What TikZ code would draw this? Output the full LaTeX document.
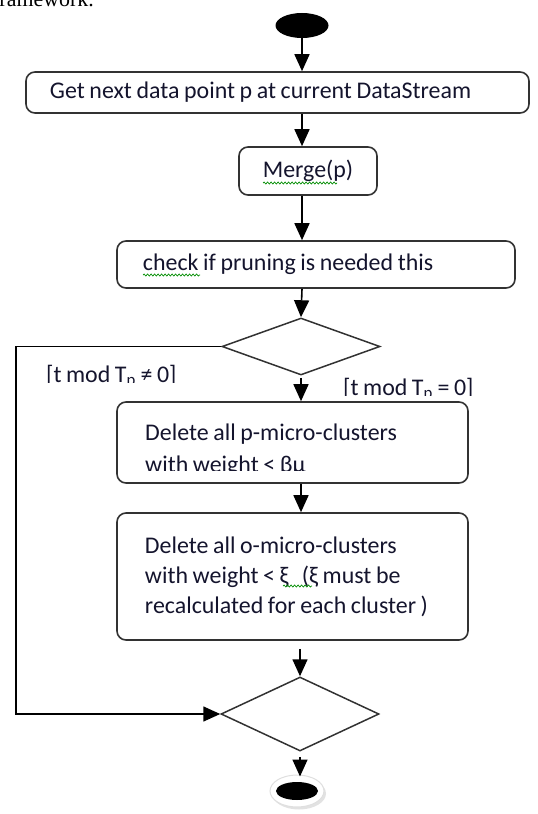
\documentclass[tikz,border=0pt]{standalone}
\usepackage{fontspec}
\setmainfont{Carlito}[WordSpace=0.85]
\newfontfamily\pageserif{Liberation Serif}
\usetikzlibrary{shapes.geometric,arrows.meta,decorations.pathmorphing,shadows}

\definecolor{ink}{RGB}{20,20,45}
\definecolor{edge}{RGB}{50,50,50}
\newcommand\boxfont{\fontsize{24}{30}\selectfont}

\tikzset{
  box/.style={draw=edge, line width=1.6bp, rounded corners=9bp, text=ink, font=\boxfont, inner ysep=0pt},
  choice/.style={diamond, draw=edge, line width=1.5bp, inner sep=0pt, minimum width=158bp},
  guard/.style={text=ink, font=\boxfont, inner sep=0pt, anchor=base west},
  flow/.style={->, line width=1.6bp},
  squiggle/.style={draw=green!55!black, line width=0.7bp, decorate, decoration={snake, amplitude=1bp, segment length=3.5bp}}
}

\begin{document}
\begin{tikzpicture}[x=1bp, y=-1bp, >={Triangle[length=17bp,width=15bp]}]
    \clip (0,0) rectangle (538,814);
    \node [font=\pageserif\fontsize{22}{22}\selectfont, anchor=base west, inner sep=0pt] (prevline) at (-8,7) {framework.};

    \node [ellipse, fill=black, minimum width=53bp, minimum height=25bp, inner sep=0pt] (begin) at (302,25.5) {};
    \node [box, minimum width=503bp, minimum height=41bp, inner xsep=24bp, text width=455bp, align=flush left] (next) at (277.5,92.5) {Get next data point p at current DataStream};
    \node [box, minimum width=138bp, minimum height=48bp, inner xsep=0pt, align=center] (merge) at (308,171) {Merge(p)};
    \node [box, minimum width=398bp, minimum height=47bp, inner xsep=26bp, text width=346bp, align=flush left] (prune) at (316,264.5) {check if pruning is needed this};
    \node [choice, minimum height=57bp] (test) at (301,346.5) {};
    \node [box, minimum width=351bp, minimum height=81bp] (pdel) at (292.5,442.5) {};
    \node [box, minimum width=351bp, minimum height=127bp, inner xsep=28bp, text width=295bp, align=flush left] (odel) at (292.5,576.5) {Delete all o-micro-clusters\\with weight < ξ \ \,(ξ must be\\recalculated for each cluster )};
    \node [choice, minimum height=74bp] (join) at (300,714) {};
    \node [ellipse, fill=white, draw=gray!25, line width=1bp, minimum width=54bp, minimum height=32bp, drop shadow={shadow xshift=2bp, shadow yshift=-2.5bp, fill=gray!45}] (halt) at (297,791) {};
    \node [ellipse, fill=black, minimum width=42bp, minimum height=18bp, inner sep=0pt] (haltdot) at (halt.center) {};

    \begin{scope}
      \clip (140,415) rectangle (460,470.5);
      \node [guard] (pdeltext) at (145,440) {Delete all p-micro-clusters};
      \node [guard] (pdeltext2) at (145,472) {with weight < βμ};
    \end{scope}
    \begin{scope}
      \clip (40,355) rectangle (200,382.5);
      \node [guard] (keep) at (46,382) {[t mod T\textsubscript{p} ≠ 0]};
    \end{scope}
    \begin{scope}
      \clip (335,368) rectangle (490,395.5);
      \node [guard] (cut) at (343,395) {[t mod T\textsubscript{p} = 0]};
    \end{scope}

    \draw [flow] (begin.south) -- (next.north -| begin.south);
    \draw [flow] (next.south -| begin.south) -- (merge.north -| begin.south);
    \draw [flow] (merge.south -| begin.south) -- (prune.north -| begin.south);
    \draw [flow] (prune.south -| begin.south) -- (test.north);
    \draw [flow, shorten <=2bp] (test.south) -- (pdel.north -| test.south);
    \draw [flow] (pdel.south -| test.south) -- (odel.north -| test.south);
    \draw [flow, shorten <=8bp] (odel.south -| join.north) -- (join.north);
    \draw [flow, shorten <=5bp, shorten >=-2bp] (join.south) -- (halt.north -| join.south);
    \draw [flow] (test.west) -- (16,0 |- test.west) -- (16,0 |- join.west) -- (join.west);

    \draw [squiggle] (143,275) -- (200,275);
    \draw [squiggle] (263,183) -- (337,183);
    \draw [squiggle] (283,586) -- (312,586);
\end{tikzpicture}
\end{document}
